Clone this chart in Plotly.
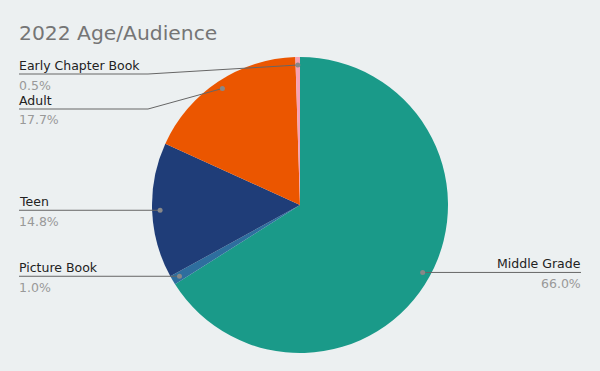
import math
import plotly.graph_objects as go

# ---- data ----
categories = ["Middle Grade", "Picture Book", "Teen", "Adult", "Early Chapter Book"]
values = [66.0, 1.0, 14.8, 17.7, 0.5]
colors = ["#1a9a89", "#2e6e9e", "#1f3d78", "#eb5600", "#f7a1b3"]
title_text = "2022 Age/Audience"

# ---- layout constants (pixels) ----
W, H = 600, 371
CX, CY, R = 300, 205, 148
DOT_R = 140          # leader line anchor radius
LEFT_X, RIGHT_X = 19, 581
KNEE_LEFT = 148
MIN_Y = 74
GAP = 35
BG = "#ecf0f1"
FONT = "DejaVu Sans"

def px(x):
    return x / W

def py(y):
    return 1 - y / H

fig = go.Figure(go.Pie(
    labels=categories, values=values, sort=False, direction="clockwise",
    rotation=0, marker=dict(colors=colors, line=dict(width=0)),
    textinfo="none", hoverinfo="label+percent", showlegend=False,
    domain=dict(x=[px(CX - R), px(CX + R)], y=[py(CY + R), py(CY - R)]),
))

total = sum(values)
cum = 0
points = []
for name, v in zip(categories, values):
    mid = (cum + v / 2) / total * 2 * math.pi
    cum += v
    dx = math.sin(mid) * DOT_R
    dy = -math.cos(mid) * DOT_R
    points.append(dict(name=name, pct=v / total * 100, x=CX + dx, y=CY + dy, left=dx < 0))

# label y positions with collision avoidance per side
for side in (True, False):
    pts = sorted([p for p in points if p["left"] == side], key=lambda p: p["y"])
    prev = None
    for p in pts:
        ly = max(p["y"], MIN_Y)
        if prev is not None and ly < prev + GAP:
            ly = prev + GAP
        p["ly"] = ly
        prev = ly

shapes = []
annotations = [dict(text=title_text, x=px(17), y=py(33), xref="paper", yref="paper",
                    xanchor="left", yanchor="middle", showarrow=False,
                    font=dict(size=20.3, color="#757575", family=FONT))]
for p in points:
    if p["left"]:
        x0 = LEFT_X
        knee = KNEE_LEFT if abs(p["ly"] - p["y"]) > 1 else p["x"]
        path = f"M {px(x0)},{py(p['ly'])} L {px(knee)},{py(p['ly'])} L {px(p['x'])},{py(p['y'])}"
        anchor = "left"
        tx = x0 - 2
    else:
        path = f"M {px(RIGHT_X)},{py(p['ly'])} L {px(p['x'])},{py(p['ly'])} L {px(p['x'])},{py(p['y'])}"
        anchor = "right"
        tx = RIGHT_X + 2
    shapes.append(dict(type="path", path=path, xref="paper", yref="paper",
                       line=dict(color="#666666", width=1)))
    shapes.append(dict(type="circle", xref="paper", yref="paper",
                       x0=px(p["x"] - 2.5), x1=px(p["x"] + 2.5),
                       y0=py(p["y"] + 2.5), y1=py(p["y"] - 2.5),
                       fillcolor="#888888", line=dict(width=0)))
    annotations.append(dict(text=p["name"], x=px(tx), y=py(p["ly"] - 8.5), xref="paper", yref="paper",
                            xanchor=anchor, yanchor="middle", showarrow=False,
                            font=dict(size=12.5, color="#222222", family=FONT)))
    annotations.append(dict(text=f"{p['pct']:.1f}%", x=px(tx), y=py(p["ly"] + 11), xref="paper", yref="paper",
                            xanchor=anchor, yanchor="middle", showarrow=False,
                            font=dict(size=12.5, color="#999999", family=FONT)))

fig.update_layout(
    width=W, height=H, margin=dict(l=0, r=0, t=0, b=0),
    paper_bgcolor=BG, plot_bgcolor=BG,
    shapes=shapes, annotations=annotations,
)

fig.write_html("out.html", config={"displayModeBar": False},
               post_script="document.body.style.margin='0';")
